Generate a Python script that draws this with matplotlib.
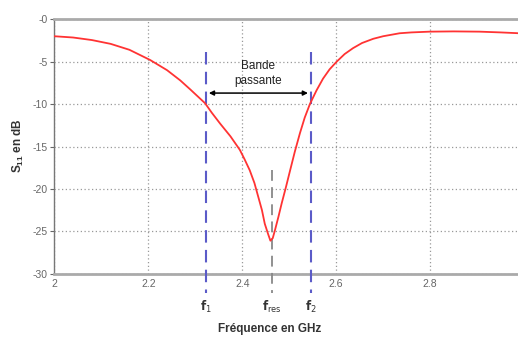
import matplotlib
matplotlib.use("Agg")
import matplotlib.pyplot as plt
import numpy as np

# S11 curve
freq_ghz = [2.0, 2.04, 2.08, 2.12, 2.16, 2.204, 2.24, 2.268, 2.29, 2.321,
            2.335, 2.353, 2.375, 2.395, 2.405, 2.416, 2.426, 2.434, 2.442,
            2.448, 2.455, 2.460, 2.465, 2.470, 2.477, 2.484, 2.493, 2.502,
            2.512, 2.523, 2.533, 2.544, 2.558, 2.572, 2.586, 2.601, 2.618,
            2.636, 2.655, 2.679, 2.70, 2.735, 2.76, 2.799, 2.85, 2.905,
            2.95, 2.99]
s11_db = [-2.0, -2.15, -2.45, -2.9, -3.6, -4.8, -6.0, -7.2, -8.3, -9.9,
          -11.0, -12.3, -13.8, -15.4, -16.5, -17.8, -19.3, -20.9, -22.5,
          -24.1, -25.3, -26.1, -25.8, -24.8, -23.3, -21.7, -19.8, -17.8,
          -15.6, -13.4, -11.6, -10.0, -8.4, -7.0, -5.9, -5.0, -4.1,
          -3.4, -2.8, -2.3, -2.0, -1.65, -1.55, -1.46, -1.43, -1.46,
          -1.55, -1.65]

f1, f2, f_res = 2.323, 2.546, 2.463
x_ticks = [2.0, 2.2, 2.4, 2.6, 2.8]
x_tick_labels = ["2", "2.2", "2.4", "2.6", "2.8"]
y_ticks = [0, -5, -10, -15, -20, -25, -30]
y_tick_labels = ["-0", "-5", "-10", "-15", "-20", "-25", "-30"]

plt.rcParams["font.family"] = ["Liberation Sans", "DejaVu Sans"]

fig = plt.figure(figsize=(5.18, 3.38), dpi=100)
ax = fig.add_axes([0.1048, 0.19, 0.8952, 0.753])

ax.plot(freq_ghz, s11_db, color="#ff3333", lw=1.3, zorder=4)

ax.set_xlim(2.0, 2.987)
ax.set_ylim(-30, 0)
ax.set_xticks(x_ticks)
ax.set_xticklabels(x_tick_labels)
ax.set_yticks(y_ticks)
ax.set_yticklabels(y_tick_labels)
ax.tick_params(colors="#666666", labelsize=7.5, length=3, width=0.8, pad=2)
ax.tick_params(axis="x", length=0, pad=4)
ax.grid(True, color="#999999", ls=(0, (1, 2)), lw=0.9)

for side in ["top", "bottom"]:
    ax.spines[side].set_color("#aaaaaa")
    ax.spines[side].set_linewidth(2)
ax.spines["left"].set_color("#777777")
ax.spines["left"].set_linewidth(1)
ax.spines["right"].set_visible(False)

# band edges and resonance markers
for f in (f1, f2):
    ax.plot([f, f], [-3.8, -32.3], color="#5b5bc8", lw=1.5,
            ls=(0, (6, 3.5)), clip_on=False, zorder=3)
ax.plot([f_res, f_res], [-17.8, -32.3], color="#888888", lw=1.3,
        ls=(0, (6, 3.5)), clip_on=False, zorder=3)

ax.annotate("", xy=(f1 + 0.006, -8.7), xytext=(f2 - 0.006, -8.7),
            arrowprops=dict(arrowstyle="<|-|>", color="black", lw=1.1,
                            mutation_scale=7, shrinkA=0, shrinkB=0))
ax.text((f1 + f2) / 2, -6.4, "Bande\npassante", ha="center", va="center",
        fontsize=8.5, color="#222222", linespacing=1.25)

label_y = -33.9
for f, name in [(f1, r"$\mathbf{f}_{\mathrm{1}}$"),
                (f2, r"$\mathbf{f}_{\mathrm{2}}$"),
                (f_res, r"$\mathbf{f}_{\mathrm{res}}$")]:
    ax.text(f, label_y, name, ha="center", va="center", fontsize=8.5,
            color="#333333", clip_on=False)

fig.text(0.52, 0.028, "Fréquence en GHz", ha="center", va="center",
         fontsize=8.5, fontweight="bold", color="#333333")
fig.text(0.035, 0.57, r"S$_{\mathregular{11}}$ en dB", ha="center",
         va="center", rotation=90, fontsize=8.5, fontweight="bold",
         color="#333333")

fig.savefig("out.png", dpi=100, facecolor="white")
